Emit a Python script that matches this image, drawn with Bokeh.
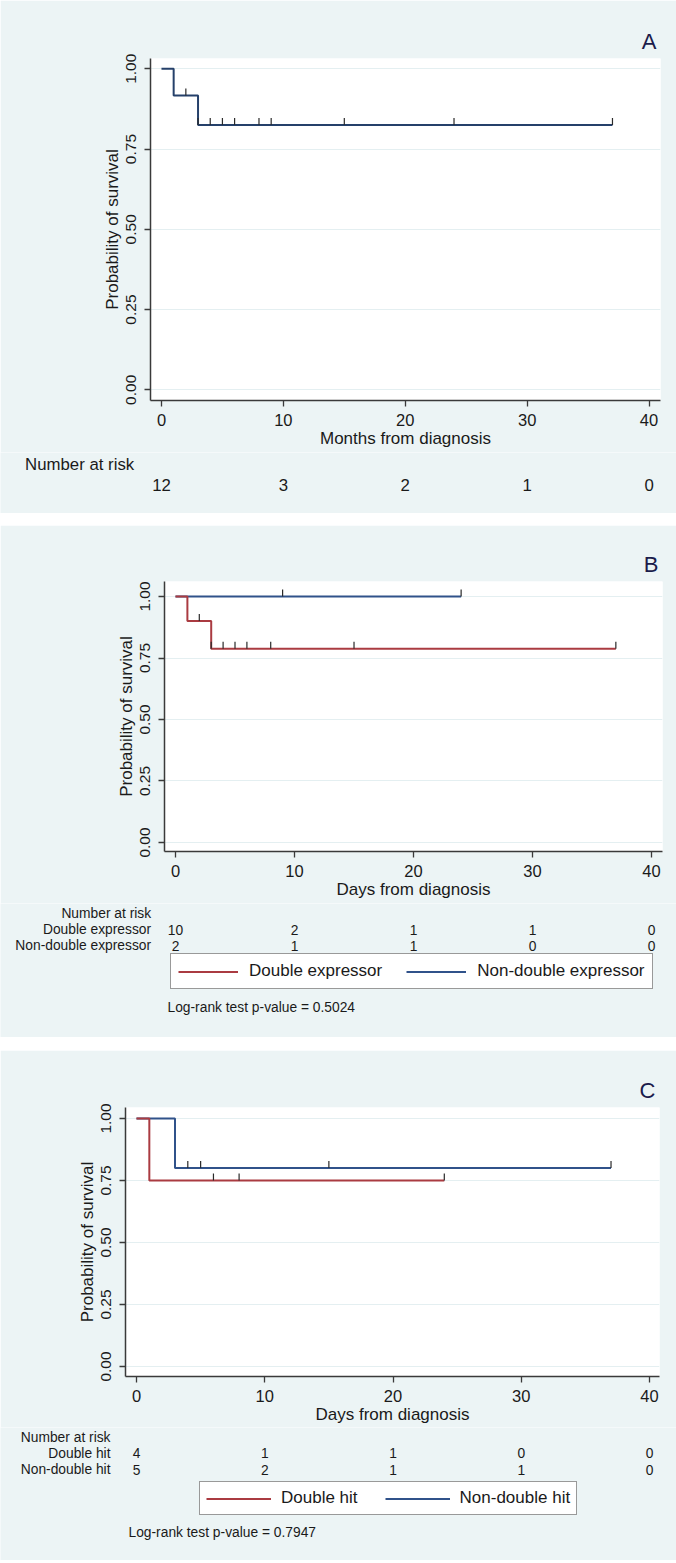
from bokeh.plotting import figure
from bokeh.models import Range1d, FixedTicker, NumeralTickFormatter, Legend, LegendItem, Spacer
from bokeh.core.properties import value
from bokeh.layouts import column
from bokeh.embed import file_html
from bokeh.resources import INLINE

# ---------------- data ----------------
risk_times = [0, 10, 20, 30, 40]
x_ticks = [0, 10, 20, 30, 40]
y_ticks = [0.0, 0.25, 0.5, 0.75, 1.0]

# Panel A : all patients
A_time = [0, 1, 3, 37]
A_surv = [1.0, 0.917, 0.825, 0.825]
A_cens_t = [2, 3, 4, 5, 6, 8, 9, 15, 24, 37]
A_cens_s = [0.917, 0.825, 0.825, 0.825, 0.825, 0.825, 0.825, 0.825, 0.825, 0.825]
A_risk = [12, 3, 2, 1, 0]

# Panel B : double expressor vs non-double expressor
B_de_time = [0, 1, 3, 37]
B_de_surv = [1.0, 0.9, 0.7875, 0.7875]
B_de_cens_t = [2, 3, 4, 5, 6, 8, 15, 37]
B_de_cens_s = [0.9, 0.7875, 0.7875, 0.7875, 0.7875, 0.7875, 0.7875, 0.7875]
B_nde_time = [0, 24]
B_nde_surv = [1.0, 1.0]
B_nde_cens_t = [9, 24]
B_nde_cens_s = [1.0, 1.0]
B_risk_de = [10, 2, 1, 1, 0]
B_risk_nde = [2, 1, 1, 0, 0]
B_groups = ["Double expressor", "Non-double expressor"]
B_pvalue = "Log-rank test p-value = 0.5024"

# Panel C : double hit vs non-double hit
C_dh_time = [0, 1, 24]
C_dh_surv = [1.0, 0.75, 0.75]
C_dh_cens_t = [6, 8, 24]
C_dh_cens_s = [0.75, 0.75, 0.75]
C_ndh_time = [0, 3, 37]
C_ndh_surv = [1.0, 0.8, 0.8]
C_ndh_cens_t = [4, 5, 15, 37]
C_ndh_cens_s = [0.8, 0.8, 0.8, 0.8]
C_risk_dh = [4, 1, 1, 0, 0]
C_risk_ndh = [5, 2, 1, 1, 0]
C_groups = ["Double hit", "Non-double hit"]
C_pvalue = "Log-rank test p-value = 0.7947"

# ---------------- style ----------------
FONT = "Liberation Sans"
BG = "#ECF4F5"
NAVY_A = "#25406a"
BLUE = "#30528a"
RED = "#aa3b41"
TXT = "#1a1a1a"
LETTER = "#1b1b4b"
AXIS = "#3a3a3a"
GRID = "#e4eff1"
SMALL = "13.8px"
W = 676


class Panel:
    """Main KM plot (with axes) plus a table strip beneath it.
    Geometry is given in page pixels."""

    def __init__(self, letter, top, split, bottom, fl, fr, ft, fb, xr, yr, xlabel):
        h = split - top
        p = figure(width=W, height=h, output_backend="svg", toolbar_location=None,
                   x_range=Range1d(*xr), y_range=Range1d(*yr),
                   min_border_left=fl, min_border_right=W - fr,
                   min_border_top=ft - top, min_border_bottom=split - fb,
                   title=letter, frame_align=False)
        p.title.align = "right"
        p.title.text_font = FONT
        p.title.text_font_size = "22px"
        p.title.text_font_style = "normal"
        p.title.text_color = LETTER
        p.title.standoff = 10
        p.title.offset = 4
        p.border_fill_color = BG
        p.background_fill_color = "white"
        p.outline_line_color = None
        p.xgrid.visible = False
        p.ygrid.grid_line_color = GRID
        p.ygrid.grid_line_width = 1
        p.ygrid.ticker = FixedTicker(ticks=y_ticks)
        for ax in (p.xaxis[0], p.yaxis[0]):
            ax.axis_line_color = AXIS
            ax.axis_line_width = 1.5
            ax.major_tick_line_color = AXIS
            ax.major_tick_line_width = 1.3
            ax.major_tick_out = 6
            ax.major_tick_in = 0
            ax.minor_tick_line_color = None
            ax.major_label_text_font = FONT
            ax.major_label_text_color = TXT
            ax.axis_label_text_font = FONT
            ax.axis_label_text_font_style = "normal"
            ax.axis_label_text_color = TXT
            ax.axis_label_text_font_size = "17px"
        p.xaxis.ticker = FixedTicker(ticks=x_ticks)
        p.xaxis.major_label_text_font_size = "16.5px"
        p.xaxis.major_label_standoff = 7
        p.xaxis.axis_label = xlabel
        p.xaxis.axis_label_standoff = 0
        p.yaxis.ticker = FixedTicker(ticks=y_ticks)
        p.yaxis.formatter = NumeralTickFormatter(format="0.00")
        p.yaxis.major_label_orientation = "vertical"
        p.yaxis.major_label_text_font_size = "15.5px"
        p.yaxis.major_label_standoff = 8
        p.yaxis.axis_label = "Probability of survival"
        p.yaxis.axis_label_standoff = 2
        self.p = p
        self.tick_h = 7.0 / (fb - ft) * (yr[1] - yr[0])

        # table strip: same horizontal data mapping as the plot above
        th = bottom - split
        k = (xr[1] - xr[0]) / (fr - fl)
        t = figure(width=W, height=th, output_backend="svg", toolbar_location=None,
                   x_range=Range1d(xr[0] - fl * k, xr[0] + (W - fl) * k),
                   y_range=Range1d(0, th), x_axis_type=None, y_axis_type=None,
                   min_border_left=0, min_border_right=0, min_border_top=0,
                   min_border_bottom=0, frame_align=False)
        t.outline_line_color = None
        t.background_fill_color = BG
        t.border_fill_color = BG
        # off-view range so that the legend can refer to the real curves
        t.extra_y_ranges = {"km": Range1d(5, 6)}
        self.t = t
        self.k = k
        self.fl = fl
        self.xr0 = xr[0]
        self.bottom = bottom

    def xd(self, px):
        return self.xr0 + (px - self.fl) * self.k

    def yd(self, py):
        return self.bottom - py

    def curve(self, t, s, ct, cs, color):
        self.p.step(t, s, mode="after", line_color=color, line_width=2)
        self.p.segment(x0=ct, y0=cs, x1=ct, y1=[v + self.tick_h for v in cs],
                       line_color="#2a2a2a", line_width=1.2)
        # same series in the table strip, out of view, for the legend key
        return self.t.step(t, s, mode="after", line_color=color, line_width=2,
                           y_range_name="km")

    def text(self, xs, py, texts, size, align, x_data=True):
        xs = list(xs) if x_data else [self.xd(v) for v in xs]
        self.t.text(x=xs, y=[self.yd(py)] * len(xs), text=[str(v) for v in texts],
                    text_font=value(FONT), text_font_size=value(size), text_color=TXT,
                    text_align=align, text_baseline="alphabetic")

    def legend(self, labels, renderers, left, box_bottom, glyph_w, standoff, spacing, padding):
        items = [LegendItem(label=lab, renderers=[r]) for lab, r in zip(labels, renderers)]
        leg = Legend(items=items, location=(left, self.bottom - box_bottom),
                     orientation="horizontal", glyph_width=glyph_w, glyph_height=17,
                     label_height=17, label_standoff=standoff, spacing=spacing,
                     padding=padding, margin=0,
                     label_text_font=FONT, label_text_font_size="17px", label_text_color=TXT,
                     border_line_color="#333333", border_line_width=1.3,
                     background_fill_color="white", background_fill_alpha=1.0)
        self.t.add_layout(leg)


# ---------------- Panel A ----------------
A = Panel("A", top=0, split=452, bottom=513, fl=150, fr=660, ft=58, fb=400,
          xr=(-0.90, 40.94), yr=(-0.0333, 1.032), xlabel="Months from diagnosis")
A.curve(A_time, A_surv, A_cens_t, A_cens_s, NAVY_A)
A.text([24.6], 463.5, ["Number at risk"], "16.8px", "left", x_data=False)
A.text(risk_times, 484, A_risk, "16.8px", "center")

# ---------------- Panel B ----------------
B = Panel("B", top=525, split=903, bottom=1037, fl=164, fr=662, ft=581, fb=851,
          xr=(-0.924, 40.92), yr=(-0.0366, 1.061), xlabel="Days from diagnosis")
rB2 = B.curve(B_nde_time, B_nde_surv, B_nde_cens_t, B_nde_cens_s, BLUE)
rB1 = B.curve(B_de_time, B_de_surv, B_de_cens_t, B_de_cens_s, RED)
B.text([150.6], 913, ["Number at risk"], SMALL, "right", x_data=False)
B.text([150.6], 929, [B_groups[0]], SMALL, "right", x_data=False)
B.text([150.6], 945, [B_groups[1]], SMALL, "right", x_data=False)
B.text(risk_times, 929, B_risk_de, SMALL, "center")
B.text(risk_times, 945, B_risk_nde, SMALL, "center")
B.text([167], 1007, [B_pvalue], SMALL, "left", x_data=False)
B.legend(B_groups, [rB1, rB2], left=170, box_bottom=989, glyph_w=60, standoff=11,
         spacing=24, padding=7)

# ---------------- Panel C ----------------
C = Panel("C", top=1050, split=1427, bottom=1560, fl=125, fr=659, ft=1107, fb=1376,
          xr=(-0.858, 40.78), yr=(-0.0403, 1.0444), xlabel="Days from diagnosis")
rC2 = C.curve(C_ndh_time, C_ndh_surv, C_ndh_cens_t, C_ndh_cens_s, BLUE)
rC1 = C.curve(C_dh_time, C_dh_surv, C_dh_cens_t, C_dh_cens_s, RED)
C.text([110], 1437, ["Number at risk"], SMALL, "right", x_data=False)
C.text([110], 1452.7, [C_groups[0]], SMALL, "right", x_data=False)
C.text([110], 1469.3, [C_groups[1]], SMALL, "right", x_data=False)
C.text(risk_times, 1452.7, C_risk_dh, SMALL, "center")
C.text(risk_times, 1469.3, C_risk_ndh, SMALL, "center")
C.text([128], 1532, [C_pvalue], SMALL, "left", x_data=False)
C.legend(C_groups, [rC1, rC2], left=199, box_bottom=1515, glyph_w=65, standoff=10,
         spacing=27, padding=6)

layout = column(A.p, A.t, Spacer(height=12), B.p, B.t, Spacer(height=13), C.p, C.t,
                spacing=0)
open("out.html", "w").write(file_html(layout, INLINE))
